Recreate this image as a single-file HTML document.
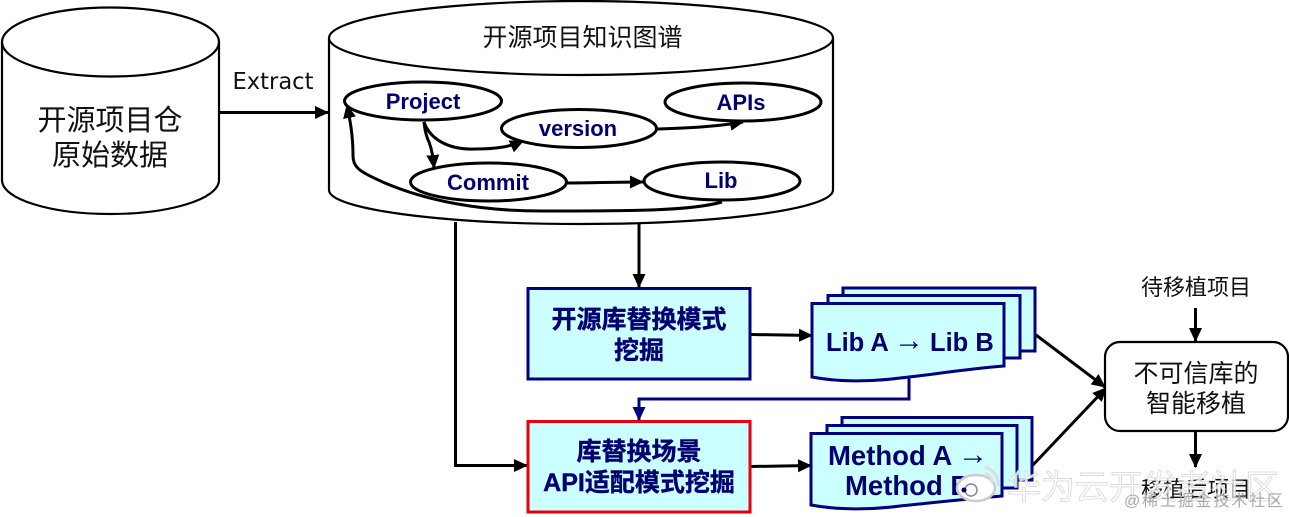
<!DOCTYPE html>
<html><head><meta charset="utf-8"><style>
html,body{margin:0;padding:0;background:#fff}
svg{display:block}
text{font-family:"Liberation Sans","Noto Sans CJK SC",sans-serif}
</style></head><body>
<svg width="1289" height="517" viewBox="0 0 1289 517" xmlns="http://www.w3.org/2000/svg">
<defs>
<marker id="k" markerWidth="14" markerHeight="14" refX="13" refY="7" orient="auto" markerUnits="userSpaceOnUse"><path d="M0,0.500L14,7L0,13.500z" fill="#000"/></marker>
<marker id="n" markerWidth="14" markerHeight="14" refX="13" refY="7" orient="auto" markerUnits="userSpaceOnUse"><path d="M0,0.500L14,7L0,13.500z" fill="#000080"/></marker>
</defs>
<rect width="1289" height="517" fill="#fff"/>
<!-- cylinder 1 -->
<path d="M2,42V180C2,199 50,214 110,214C170,214 219,199 219,180V42" fill="#fff" stroke="#000" stroke-width="2.200"/>
<ellipse cx="110.500" cy="42" rx="108.500" ry="34.500" fill="#fff" stroke="#000" stroke-width="2.200"/>
<text x="110" y="130" font-size="29" text-anchor="middle" fill="#111">开源项目仓</text>
<text x="110" y="165" font-size="29" text-anchor="middle" fill="#111">原始数据</text>
<text x="273" y="89" font-size="23" text-anchor="middle" fill="#111" style="font-family:'DejaVu Sans',sans-serif" textLength="81" lengthAdjust="spacingAndGlyphs">Extract</text>
<path d="M220,112.500H328" stroke="#000" stroke-width="3" fill="none" marker-end="url(#k)"/>
<!-- cylinder 2 -->
<path d="M329,38V190C329,209 440,224 581,224C722,224 833,209 833,190V38" fill="#fff" stroke="#000" stroke-width="2.200"/>
<ellipse cx="581" cy="38" rx="252" ry="37" fill="#fff" stroke="#000" stroke-width="2.200"/>
<text x="582.500" y="46" font-size="25" text-anchor="middle" fill="#111">开源项目知识图谱</text>
<!-- graph edges -->
<g fill="none" stroke="#000" stroke-width="3">
<path d="M424,122C430,140 450,150 475,149C495,149 510,147 523,141" marker-end="url(#k)"/>
<path d="M424,122C425,132 427,138 429,142C432,150 433,157 434,168" marker-end="url(#k)"/>
<path d="M657,129C685,128 715,127 743,122" marker-end="url(#k)"/>
<path d="M567,183C590,183 615,182 643,182" marker-end="url(#k)"/>
<path d="M722,202C690,211 630,211 550,211C480,212 425,200 385,183C360,172 353,168 353,155C353,135 350,120 347,105" marker-end="url(#k)"/>
</g>
<!-- graph nodes -->
<g fill="#fff" stroke="#000" stroke-width="3">
<ellipse cx="423" cy="101" rx="78.500" ry="19"/>
<ellipse cx="743" cy="102" rx="78" ry="19"/>
<ellipse cx="579" cy="128.500" rx="77.500" ry="19"/>
<ellipse cx="488.500" cy="182" rx="78" ry="19"/>
<ellipse cx="722" cy="181" rx="78" ry="19"/>
</g>
<g font-size="22" font-weight="700" fill="#000070" text-anchor="middle">
<text x="423" y="109">Project</text>
<text x="741" y="110">APIs</text>
<text x="578" y="136">version</text>
<text x="488" y="190">Commit</text>
<text x="721" y="188">Lib</text>
</g>
<!-- main connectors -->
<g fill="none" stroke="#000" stroke-width="3">
<path d="M639,224V287" marker-end="url(#k)"/>
<path d="M455.500,222V465.500H527" marker-end="url(#k)"/>
<path d="M751,334.500L812,335.500" marker-end="url(#k)"/>
<path d="M751,466.500L811,465.500" marker-end="url(#k)"/>
<path d="M1036,335L1105,387" marker-end="url(#k)"/>
<path d="M1032,466L1106,388" marker-end="url(#k)"/>
<path d="M1195.500,308V341" marker-end="url(#k)"/>
<path d="M1195.500,432V467" marker-end="url(#k)"/>
</g>
<path d="M909,376V399H639V420" fill="none" stroke="#000080" stroke-width="3" marker-end="url(#n)"/>
<!-- boxes -->
<rect x="528" y="288.500" width="222" height="90.500" fill="#ccffff" stroke="#000080" stroke-width="3"/>
<rect x="528" y="421.500" width="222" height="90.500" fill="#ccffff" stroke="#e8000d" stroke-width="3"/>
<g font-size="25" font-weight="700" fill="#000070" text-anchor="middle" stroke="#000070" stroke-width=".4">
<text x="639" y="328">开源库替换模式</text>
<text x="639" y="359">挖掘</text>
<text x="639" y="460">库替换场景</text>
<text x="639" y="491">API适配模式挖掘</text>
</g>
<!-- doc stack 1 -->
<g fill="#ccffff" stroke="#000080" stroke-width="3" stroke-linejoin="miter">
<path d="M843,288H1035V351H843z"/>
<path d="M828,295.500H1020V358H828z"/>
<path d="M812,303.500H1004V366C965,369 930,375 900,378C870,382 838,382 812,377z"/>
<path d="M842,417.500H1032V480H842z"/>
<path d="M827,425.500H1017V488H827z"/>
<path d="M811,433.500H1002V496C965,499 930,503 900,506C870,510 838,510 811,505z"/>
</g>
<text x="826" y="351" font-size="25.500" font-weight="700" fill="#000070">Lib A</text>
<text x="894" y="350" font-size="30" fill="#000070">→</text>
<text x="930" y="351" font-size="25.500" font-weight="700" fill="#000070">Lib B</text>
<text x="828" y="465" font-size="27.500" font-weight="700" fill="#000070">Method A</text>
<text x="958" y="464" font-size="30" fill="#000070">→</text>
<text x="845" y="495" font-size="27.500" font-weight="700" fill="#000070">Method B</text>
<!-- right box -->
<rect x="1105" y="342" width="183" height="89" rx="15" ry="15" fill="#fff" stroke="#000" stroke-width="2.200"/>
<text x="1196" y="382" font-size="25" text-anchor="middle" fill="#111">不可信库的</text>
<text x="1196" y="412" font-size="25" text-anchor="middle" fill="#111">智能移植</text>
<text x="1196" y="295" font-size="22" text-anchor="middle" fill="#111">待移植项目</text>
<text x="1196" y="497" font-size="22" text-anchor="middle" fill="#111">移植后项目</text>
<!-- watermark -->
<ellipse cx="976" cy="488" rx="19" ry="13" fill="#fff" stroke="#ccc" stroke-width="2.500"/>
<circle cx="971" cy="490" r="6" fill="none" stroke="#888" stroke-width="1.500"/>
<circle cx="964" cy="490" r="2.500" fill="#000070"/>
<path d="M985,467C994,470 999,477 998,486M985,474C990,475 992,478 992,483" fill="none" stroke="#ddd" stroke-width="3"/>
<text x="1007" y="499" font-size="34" fill="#fff" fill-opacity=".82" stroke="#ccc" stroke-opacity=".8" stroke-width=".8" textLength="272">华为云开发者社区</text>
<text x="1124" y="506" font-size="16" fill="#aaa" textLength="159">@稀土掘金技术社区</text>
</svg>
</body></html>
